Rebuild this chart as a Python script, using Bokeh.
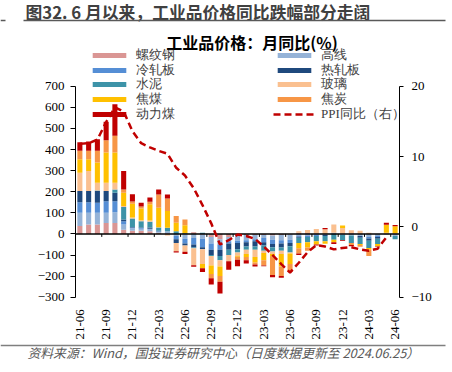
import math
import numpy as np
from bokeh.plotting import figure
from bokeh.models import (Range1d, LinearAxis, FixedTicker, Legend, LegendItem,
                          Label, BoxAnnotation, ColumnDataSource)
from bokeh.embed import file_html
from bokeh.resources import INLINE

months = ["21-06", "21-07", "21-08", "21-09", "21-10", "21-11", "21-12",
          "22-01", "22-02", "22-03", "22-04", "22-05", "22-06", "22-07", "22-08",
          "22-09", "22-10", "22-11", "22-12", "23-01", "23-02", "23-03", "23-04",
          "23-05", "23-06", "23-07", "23-08", "23-09", "23-10", "23-11", "23-12",
          "24-01", "24-02", "24-03", "24-04", "24-05", "24-06"]

rebar = [38, 44, 44, 52, 52, 20, 15, 15, 12, 5, 3, 0, -3, 8, -3, -15, -25, -15, -8,
         -5, -5, -5, -8, -5, -3, 5, 4, 3, 0, 0, 0, 3, 0, 0, 0, 0, 0]
wire_rod = [62, 56, 56, 48, 51, 25, 12, 10, 10, 5, 10, -10, -20, -20, -20, -30, -25, -20, -25,
            -25, -20, -15, -20, -25, -25, -8, -10, -5, -5, 5, -5, -8, -10, -15, -10, -3, -10]
cold_rolled = [50, 50, 48, 55, 52, 15, 3, 3, 3, 3, 0, -15, -22, -30, -40, -30, -25, -10, -10,
               -10, -10, -20, -20, -15, -15, -5, -5, -5, 0, 0, 0, 0, 0, -7, -5, 0, 0]
hot_rolled = [53, 53, 55, 48, 40, 8, 3, 2, 5, 2, 0, -18, -10, -15, -10, -25, -30, -30, -30,
              -20, -25, -15, -15, -20, -15, -5, 0, 0, -5, 0, 0, 0, -8, -10, -8, 0, 0]
cement = [0, 0, 3, 0, 16, 60, 40, 30, 28, 15, 16, 13, 3, -3, 6, -5, -20, -25, -15,
          -15, -15, -25, -20, -15, -30, -25, -25, -25, -25, -28, -25, -35, -30, -35, -25, 0, -15]
glass = [87, 95, 37, 40, 32, 4, 5, 5, 5, 2, -8, -39, -30, -80, -70, -45, -30, -30, -15,
         -20, -35, -10, -12, -15, -5, 8, 14, 20, 22, 39, 28, 14, 15, 5, 0, 5, 3]
coking_coal = [64, 56, 95, 143, 143, 63, 65, 55, 77, 92, 79, 40, 38, 0, -20, -40, -45, 0, -5,
               -15, -25, -35, -10, -60, -50, -25, -25, -15, -12, -12, 12, 0, -5, -8, -10, 38, 33]
coke = [40, 40, 56, 58, 79, 16, 10, 10, 12, 63, 60, 32, 27, 0, 0, -20, -27, 0, -15,
        -15, -10, -25, -90, -45, -37, -25, -15, 0, 0, 0, 0, -10, -8, -30, 0, 0, 0]
thermal_coal = [40, 44, 55, 88, 150, 87, 35, 18, 20, 24, 19, -6, -10, -8, -17, -30, -55, -40, -30,
                -15, -10, -3, -10, -8, 0, -7, 0, -5, 6, -8, -4, -5, 0, 0, -3, 10, 6]
ppi_yoy = [11.8, 11.9, 12.4, 14.9, 17.0, 16.4, 13.6, 11.9, 11.3, 10.8, 10.4, 8.4, 7.3, 5.5,
           3.1, 0.5, -2.5, -1.9, -1.1, -1.3, -1.7, -2.8, -4.0, -5.3, -6.5, -5.1, -3.6, -2.6,
           -2.8, -3.2, -3.0, -2.9, -3.2, -3.4, -3.1, -1.5, float("nan")]

left_ticks = list(range(-300, 701, 100))
right_ticks = [-10, 0, 10, 20]

series = [("螺纹钢", rebar, "#DA9694"), ("高线", wire_rod, "#95B3D7"),
          ("冷轧板", cold_rolled, "#558ED5"), ("热轧板", hot_rolled, "#1F497D"),
          ("水泥", cement, "#3D93A8"), ("玻璃", glass, "#FAC090"),
          ("焦煤", coking_coal, "#FFC000"), ("焦炭", coke, "#F79646"),
          ("动力煤", thermal_coal, "#C00000")]

n = len(months)
x = np.arange(n)

# page layout (pixels): the plotting area of the reference
W, H = 452, 372
fl, fr, ft, fb = 75.0, 399.0, 85.7, 296.7
xlo, xhi = -0.5, n - 0.5
ylo, yhi = left_ticks[0], left_ticks[-1]
rlo, rhi = right_ticks[0], right_ticks[-1]
kx = (fr - fl) / (xhi - xlo)
ky = (fb - ft) / (yhi - ylo)
kr = (fb - ft) / (rhi - rlo)

p = figure(width=W, height=H,
           x_range=Range1d(xlo - fl / kx, xhi + (W - fr) / kx),
           y_range=Range1d(ylo - (H - fb) / ky, yhi + ft / ky),
           output_backend="svg", toolbar_location=None, title=None,
           min_border=0, min_border_left=0, min_border_right=0,
           min_border_top=0, min_border_bottom=0)
p.extra_y_ranges = {"ppi": Range1d(rlo - (H - fb) / kr, rhi + ft / kr)}
p.outline_line_color = None
p.xgrid.visible = False
p.ygrid.visible = False

pos = np.zeros(n)
neg = np.zeros(n)
rends = {}
for name, vals, color in series:
    v = np.array(vals, dtype=float)
    bottom = np.where(v >= 0, pos, neg)
    top = bottom + v
    pos = np.where(v >= 0, pos + v, pos)
    neg = np.where(v < 0, neg + v, neg)
    src = ColumnDataSource(dict(x=x, bottom=bottom, top=top))
    rends[name] = p.vbar(x="x", width=0.58, bottom="bottom", top="top", source=src,
                         fill_color=color, line_color=None)

# zero line with category tick marks between bars
p.segment(x0=[xlo], y0=[0], x1=[xhi], y1=[0], line_color="black", line_width=1.5)
tick_x = [k + 2.5 for k in range(0, n - 1, 3)]
p.segment(x0=tick_x, y0=[0] * len(tick_x), x1=tick_x, y1=[-3 / ky] * len(tick_x),
          line_color="black", line_width=1)

ppi_r = p.line(x, ppi_yoy, y_range_name="ppi", line_color="#C00000", line_width=2.5,
               line_dash="7 4")

tick_font = "Liberation Serif"
ly = p.yaxis[0]
ly.fixed_location = xlo
ly.bounds = (ylo, yhi)
ly.ticker = FixedTicker(ticks=left_ticks)
ly.major_tick_out = 5
ly.major_tick_in = 0
ly.minor_tick_line_color = None
ly.axis_line_color = "black"
ly.major_label_text_font = tick_font
ly.major_label_text_font_size = "13px"
ly.major_label_text_color = "black"
ly.major_label_standoff = 6

ry = LinearAxis(y_range_name="ppi", ticker=FixedTicker(ticks=right_ticks))
ry.fixed_location = xhi
ry.bounds = (rlo, rhi)
ry.major_tick_out = 4
ry.major_tick_in = 0
ry.minor_tick_line_color = None
ry.axis_line_color = "black"
ry.major_label_text_font = tick_font
ry.major_label_text_font_size = "13px"
ry.major_label_text_color = "black"
ry.major_label_standoff = 8
p.add_layout(ry, "right")

bx = p.xaxis[0]
bx.fixed_location = ylo
label_idx = list(range(0, n, 3))
bx.ticker = FixedTicker(ticks=label_idx)
bx.major_label_overrides = {i: months[i] for i in label_idx}
bx.axis_line_color = None
bx.major_tick_line_color = None
bx.minor_tick_line_color = None
bx.major_label_orientation = math.pi / 2
bx.major_label_text_font = tick_font
bx.major_label_text_font_size = "13px"
bx.major_label_text_color = "black"
bx.major_label_standoff = 6

# legend: two columns, placed entry by entry for exact row pitch
legend_rows = [["螺纹钢", "高线"], ["冷轧板", "热轧板"], ["水泥", "玻璃"],
               ["焦煤", "焦炭"], ["动力煤", "PPI同比（右）"]]
col_x = [88, 273]
row0, pitch = 55.7, 14.6
for r, row in enumerate(legend_rows):
    for c, nm in enumerate(row):
        rend = ppi_r if nm.startswith("PPI") else rends[nm]
        lg = Legend(items=[LegendItem(label=nm, renderers=[rend])],
                    location=(col_x[c], H - (row0 + pitch * r + 8.5)),
                    glyph_width=42, glyph_height=6, label_text_font="Liberation Serif",
                    label_text_font_size="13px", label_text_color="#404040",
                    label_standoff=6, label_height=10, spacing=0,
                    padding=0, margin=0, background_fill_alpha=0, border_line_alpha=0)
        p.add_layout(lg)

cjk = "Noto Sans CJK SC"
p.add_layout(Label(x=25, y=H - 11.7, x_units="screen", y_units="screen",
                   text="图32. 6 月以来，工业品价格同比跌幅部分走阔", text_font=cjk,
                   text_font_style="bold", text_font_size="16.8px", text_color="#404040",
                   text_baseline="middle"))
for (l, r) in [(0, 5), (23, 445)]:
    p.add_layout(BoxAnnotation(left=l, right=r, bottom=H - 20.8, top=H - 19.3,
                               left_units="screen", right_units="screen",
                               bottom_units="screen", top_units="screen",
                               fill_color="#595959", fill_alpha=1, line_color=None))
p.add_layout(Label(x=251.5, y=H - 41, x_units="screen", y_units="screen",
                   text="工业品价格：月同比(%)", text_font=cjk, text_font_style="bold",
                   text_font_size="16px", text_color="black", text_align="center",
                   text_baseline="middle"))
p.add_layout(BoxAnnotation(left=0, right=445, bottom=H - 345.8, top=H - 344.2,
                           left_units="screen", right_units="screen",
                           bottom_units="screen", top_units="screen",
                           fill_color="#7F7F7F", fill_alpha=1, line_color=None))
p.add_layout(Label(x=27, y=H - 352, x_units="screen", y_units="screen",
                   text="资料来源：Wind，国投证券研究中心（日度数据更新至 2024.06.25）",
                   text_font=cjk, text_font_style="italic", text_font_size="12.8px",
                   text_color="#595959", text_baseline="middle"))

open("out.html", "w").write(file_html(p, INLINE))
